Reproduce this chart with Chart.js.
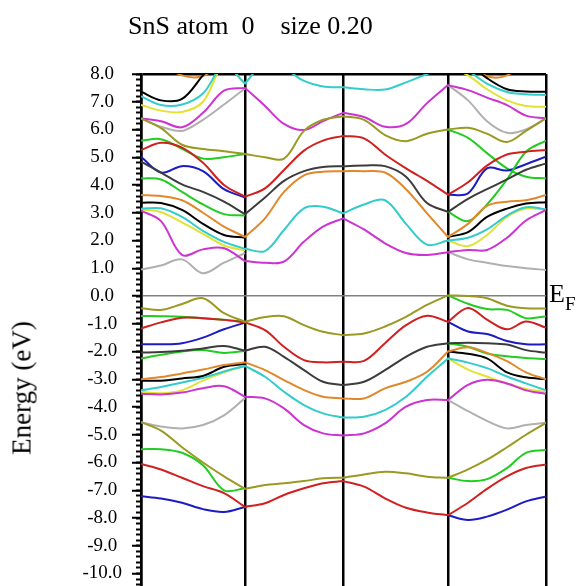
<!DOCTYPE html>
<html>
<head>
<meta charset="utf-8">
<script src="https://cdn.jsdelivr.net/npm/chart.js@4/dist/chart.umd.min.js"></script>
<style>
  html, body { margin: 0; padding: 0; background: #fff; }
  #wrap { position: relative; width: 578px; height: 586px; overflow: hidden; background: #fff; }
  #c { position: absolute; left: 0; top: 0; }
  .txt { position: absolute; font-family: "Liberation Serif", "Times New Roman", serif; color: #000; white-space: pre; }
</style>
</head>
<body>
<div id="wrap">
  <canvas id="c" width="578" height="586"></canvas>
  <div class="txt" id="title" style="left:128px; top:13px; font-size:26px; line-height:26px;">SnS atom  0    size 0.20</div>
  <div class="txt" id="ylab" style="left:22px; top:388px; font-size:27px; line-height:27px; transform: translate(-50%,-50%) rotate(-90deg);">Energy (eV)</div>
  <div class="txt" style="left:549px; top:281px; font-size:26px; line-height:26px;">E</div>
  <div class="txt" style="left:565px; top:294px; font-size:19px; line-height:19px;">F</div>
</div>
<script>
// k-path positions of sampled points (4 segments between high-symmetry points)
const K = [0, 0.20, 0.41, 0.62, 0.83, 1.04, 1.24, 1.43, 1.63, 1.82, 2.02, 2.23, 2.44, 2.65, 2.86, 3.07, 3.27, 3.46, 3.66, 3.85, 4.05];
// high-symmetry points (vertical lines)
const HSYM = [0, 1.04, 2.02, 3.07, 4.05];
const Y_MIN = -10.45, Y_MAX = 8.0;

// valence bands (eV); null = hidden under a degenerate partner
const vOlive1  = [-0.44, -0.5, -0.29, -0.08, -0.62, -0.93, -0.76, -0.73, -1.05, -1.29, -1.41, -1.35, -1.1, -0.75, -0.32, 0.02, 0.0, -0.08, -0.35, -0.44, -0.45];
const vGreen1  = [-0.72, -0.73, -0.75, -0.8, -0.86, -0.93, null, null, null, null, null, null, null, null, null, 0.02, -0.28, -0.47, -0.5, -0.8, -0.73];
const vRed1    = [-1.17, -0.95, -0.78, -0.8, -0.86, -0.95, -1.23, -1.83, -2.31, -2.39, -2.37, -2.34, -1.7, -1.05, -0.71, -0.93, -0.43, -0.85, -1.2, -0.92, -1.14];
const vBlue1   = [-1.74, -1.74, -1.7, -1.5, -1.2, -0.96, null, null, null, null, null, null, null, null, null, -0.93, -1.28, -1.37, -1.62, -1.74, -1.74];
const vDkGray1 = [-2.04, -2.02, -1.97, -1.89, -1.8, -1.97, -1.83, -2.19, -2.67, -3.09, -3.21, -3.09, -2.67, -2.19, -1.83, -1.7, -1.68, -1.7, -1.75, -1.95, -2.04];
const vGreen2  = [-2.25, -2.12, -2.0, -1.95, -2.05, -1.98, null, null, null, null, null, null, null, null, null, -1.7, -1.83, -2.07, -2.17, -2.23, -2.27];
const vOrange1 = [-3.0, -2.92, -2.79, -2.65, -2.49, -2.39, -2.67, -3.03, -3.39, -3.63, -3.69, -3.69, -3.33, -3.09, -2.73, -2.0, -1.85, -2.05, -2.35, -2.75, -3.0];
const vBlack1  = [-3.05, -3.05, -2.97, -2.88, -2.55, -2.45, null, null, null, null, null, null, null, null, null, -2.0, -2.08, -2.25, -2.75, -2.93, -3.0];
const vCyan1   = [-3.4, -3.28, -3.12, -2.95, -2.72, -2.52, -2.91, -3.45, -3.93, -4.23, -4.38, -4.35, -4.11, -3.63, -2.91, -2.25, -2.4, -2.6, -2.9, -3.15, -3.4];
const vYellow1 = [-3.45, -3.5, -3.4, -3.05, -2.75, -2.52, null, null, null, null, null, null, null, null, null, -2.25, -2.65, -2.9, -3.15, -3.35, -3.45];
const vMagenta1= [-3.52, -3.55, -3.48, -3.32, -3.25, -3.63, -3.69, -4.05, -4.65, -4.95, -5.03, -4.95, -4.59, -3.99, -3.75, -3.75, -3.2, -3.02, -3.15, -3.4, -3.53];
const vGray1   = [-4.55, -4.7, -4.77, -4.65, -4.3, -3.68, null, null, null, null, null, null, null, null, null, -3.75, -4.15, -4.5, -4.77, -4.65, -4.57];
const vOlive2  = [-4.55, -4.85, -5.45, -6.0, -6.5, -6.95, -6.81, -6.75, -6.67, -6.57, -6.55, -6.43, -6.33, -6.39, -6.51, -6.55, -6.25, -5.9, -5.45, -5.0, -4.57];
const vGreen3  = [-5.52, -5.52, -5.65, -6.1, -7.0, -6.93, null, null, null, null, null, null, null, null, null, -6.55, -6.67, -6.6, -6.2, -5.65, -5.55];
const vRed2    = [-6.05, -6.25, -6.55, -6.85, -7.1, -7.6, -7.47, -7.17, -6.93, -6.75, -6.67, -6.87, -7.29, -7.63, -7.8, -7.9, -7.45, -6.95, -6.5, -6.2, -6.07];
const vBlue2   = [-7.22, -7.3, -7.45, -7.68, -7.78, -7.6, null, null, null, null, null, null, null, null, null, -7.9, -8.07, -7.95, -7.7, -7.4, -7.22];

// conduction bands (eV); null = hidden or above the plotted window
const cGray1   = [0.95, 1.1, 1.32, 0.82, 1.2, 1.55, null, null, null, null, null, null, null, null, null, 1.58, 1.32, 1.2, 1.08, 1.0, 0.94];
const cMagenta1= [3.08, 2.7, 1.48, 1.68, 1.72, 1.26, 1.2, 1.24, 1.96, 2.5, 2.8, 2.4, 1.9, 1.55, 1.48, 1.58, 1.66, 1.66, 2.1, 2.72, 3.1];
const cCyan1   = [3.14, 3.16, 2.85, 2.35, 1.95, 1.7, 1.62, 2.38, 3.16, 3.22, 2.98, 3.3, 3.45, 2.6, 1.85, 2.0, 2.1, 2.4, 2.9, 3.2, 3.12];
const cYellow1 = [3.12, 3.02, 2.65, 2.24, 1.82, 1.64, null, null, null, null, null, null, null, null, null, 2.0, 1.8, 2.2, 2.85, 3.15, 3.12];
const cOrange1 = [3.64, 3.6, 3.45, 3.0, 2.5, 2.13, 2.8, 3.75, 4.35, 4.48, 4.5, 4.5, 4.45, 3.85, 2.98, 2.13, 2.6, 3.25, 3.4, 3.45, 3.64];
const cBlack1  = [3.36, 3.35, 3.1, 2.6, 2.2, 2.1, null, null, null, null, null, null, null, null, null, 2.13, 2.3, 2.85, 3.15, 3.33, 3.38];
const cDkGray1 = [4.84, 4.45, 4.02, 3.75, 3.4, 2.95, 3.55, 4.15, 4.5, 4.65, 4.68, 4.7, 4.68, 4.3, 3.35, 3.03, 3.5, 3.85, 4.2, 4.55, 4.78];
const cGreenA  = [4.24, 4.2, 3.75, 3.3, 2.95, 2.9, null, null, null, null, null, null, null, null, null, 3.03, 2.7, 3.3, 4.2, 5.2, 5.6];
const cRed1    = [5.26, 5.52, 5.35, 4.8, 4.0, 3.58, 3.88, 4.54, 5.24, 5.6, 5.77, 5.68, 5.1, 4.6, 4.15, 3.65, 4.1, 4.7, 5.1, 5.2, 5.26];
const cBlue1   = [5.02, 4.45, 4.68, 4.5, 3.85, 3.55, null, null, null, null, null, null, null, null, null, 3.65, 3.7, 4.6, 4.52, 4.75, 5.02];
const cOlive1  = [6.4, 6.05, 5.45, 5.3, 5.22, 5.12, 5.0, 4.95, 5.95, 6.35, 6.48, 6.35, 5.8, 5.58, 5.85, 6.0, 6.06, 5.85, 5.55, 5.95, 6.4];
const cGreenB  = [5.6, 5.65, 5.3, 4.95, 5.0, 5.12, null, null, null, null, null, null, null, null, null, 6.0, 5.7, 5.15, 4.6, 4.3, 4.24];
const cMagenta2= [6.4, 6.3, 6.08, 6.6, 7.4, 7.5, 6.85, 6.2, 5.98, 6.3, 6.6, 6.45, 6.1, 6.2, 6.95, 7.6, 7.42, 7.15, 6.88, 6.5, 6.4];
const cGray2   = [6.4, 6.1, 5.95, 6.35, 6.9, 7.48, null, null, null, null, null, null, null, null, null, 7.6, 7.05, 6.3, 5.88, 6.0, 6.4];
const cCyan2   = [7.2, 6.88, 6.9, 7.3, 8.3, 7.66, 8.4, 8.2, 7.75, 7.55, 7.52, 7.45, 7.44, 7.7, 8.0, 8.3, 8.1, 7.65, 7.35, 7.27, 7.24];
const cYellow2 = [6.88, 6.68, 6.63, 7.0, 8.3, 7.66, null, null, null, null, null, null, null, null, null, 8.3, 7.95, 7.45, 7.05, 6.85, 6.82];
const cBlack2  = [7.36, 7.05, 7.1, 7.95, 8.8, null, null, null, null, null, null, null, null, null, null, null, 8.4, 7.85, 7.45, 7.37, 7.36];
const cOrange2 = [null, 8.4, 7.95, 7.93, 8.5, null, null, null, null, null, null, null, null, null, null, null, 8.4, 7.92, 7.95, 8.5, null];

// colours (style only)
const COLORS = {
  black: '#000000', red: '#d02020', green: '#22cc22', blue: '#1c1cc4', cyan: '#33cccc',
  magenta: '#cc33d0', yellow: '#e2e232', gray: '#b0b0b0', olive: '#9a9a22', orange: '#e0882a', dkgray: '#3c3c3c'
};

// [values, colour, layer] — layer 0 drawn on top, 1 underneath
const BANDS = [
  [vGreen1, 'green', 1], [vBlue1, 'blue', 1], [vGreen2, 'green', 1], [vBlack1, 'black', 1],
  [vYellow1, 'yellow', 1], [vGray1, 'gray', 1], [vGreen3, 'green', 1], [vBlue2, 'blue', 1],
  [vOlive1, 'olive', 0], [vRed1, 'red', 0], [vDkGray1, 'dkgray', 0], [vOrange1, 'orange', 0],
  [vCyan1, 'cyan', 0], [vMagenta1, 'magenta', 0], [vOlive2, 'olive', 0], [vRed2, 'red', 0],
  [cGray1, 'gray', 1], [cYellow1, 'yellow', 1], [cBlack1, 'black', 1], [cGreenA, 'green', 1],
  [cBlue1, 'blue', 1], [cGreenB, 'green', 1], [cGray2, 'gray', 1], [cYellow2, 'yellow', 1],
  [cBlack2, 'black', 1], [cOrange2, 'orange', 1],
  [cMagenta1, 'magenta', 0], [cCyan1, 'cyan', 0], [cOrange1, 'orange', 0], [cDkGray1, 'dkgray', 0],
  [cRed1, 'red', 0], [cOlive1, 'olive', 0], [cMagenta2, 'magenta', 0], [cCyan2, 'cyan', 0]
];

// build points; repeat the point at interior high-symmetry k so the curve may kink there
const interior = HSYM.slice(1, -1);
function toPoints(vals) {
  const pts = [];
  K.forEach((k, i) => {
    pts.push({ x: k, y: vals[i] });
    if (interior.includes(k)) pts.push({ x: k, y: vals[i] });
  });
  return pts;
}

const datasets = BANDS.map(([vals, col, layer]) => ({
  data: toPoints(vals),
  borderColor: COLORS[col],
  borderWidth: 2,
  pointRadius: 0,
  tension: 0.35,
  fill: false,
  spanGaps: false,
  order: layer
}));

new Chart(document.getElementById('c'), {
  type: 'line',
  data: { datasets },
  options: {
    responsive: false,
    animation: false,
    devicePixelRatio: 1,
    layout: { padding: { left: 0, top: 74, right: 32, bottom: 0 } },
    plugins: { legend: { display: false }, tooltip: { enabled: false }, title: { display: false } },
    scales: {
      x: {
        type: 'linear', min: HSYM[0], max: HSYM[HSYM.length - 1],
        afterBuildTicks: s => { s.ticks = HSYM.map(v => ({ value: v })); },
        afterFit: s => { s.height = 0; s.paddingLeft = 0; s.paddingRight = 0; },
        ticks: { display: false },
        grid: { color: '#000', lineWidth: 2.5, drawTicks: false },
        border: { display: false }
      },
      yMinor: {
        type: 'linear', position: 'left', weight: 0, min: Y_MIN, max: Y_MAX,
        afterFit: s => { s.width = 0; s.paddingTop = 0; s.paddingBottom = 0; },
        ticks: { display: false, stepSize: 0.2, includeBounds: false, autoSkip: false },
        grid: { drawOnChartArea: false, drawTicks: true, tickLength: 5, tickColor: '#000', tickWidth: 2 },
        border: { display: false }
      },
      y: {
        type: 'linear', position: 'left', weight: 1, min: Y_MIN, max: Y_MAX,
        afterFit: s => { s.width = 141; s.paddingTop = 0; s.paddingBottom = 0; },
        ticks: {
          stepSize: 1, includeBounds: false, autoSkip: false,
          crossAlign: 'center', padding: 10, color: '#000',
          font: { family: 'Liberation Serif', size: 19 },
          callback: v => Number.isInteger(v) ? v.toFixed(1) : ''
        },
        grid: {
          drawOnChartArea: true, drawTicks: true, tickLength: 9, tickColor: '#000', tickWidth: 2,
          color: ctx => ctx.tick && ctx.tick.value === 0 ? '#808080' : (ctx.tick && ctx.tick.value === Y_MAX ? '#000' : 'rgba(0,0,0,0)'),
          lineWidth: ctx => ctx.tick && ctx.tick.value === Y_MAX ? 2.5 : 1.5
        },
        border: { display: true, color: '#000', width: 2.5 }
      }
    }
  }
});
</script>
</body>
</html>
